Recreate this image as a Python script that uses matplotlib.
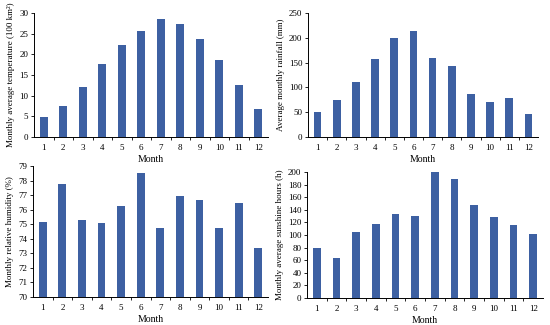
import numpy as np
import matplotlib
matplotlib.use('Agg')
import matplotlib.pyplot as plt

plt.rcParams['font.family'] = ['Liberation Serif', 'DejaVu Serif']

months = list(range(1, 13))
month_labels = [str(m) for m in months]

temperature = [4.9, 7.4, 12.0, 17.7, 22.2, 25.6, 28.5, 27.4, 23.8, 18.6, 12.7, 6.8]
rainfall = [49.6, 74.4, 110.6, 156.8, 199.7, 214.5, 160.2, 143.4, 85.8, 69.7, 78.4, 45.6]
humidity = [75.17, 77.78, 75.28, 75.1, 76.22, 78.52, 74.71, 76.91, 76.68, 74.71, 76.43, 73.35]
sunshine = [78.8, 63.5, 104.8, 118.0, 132.8, 130.7, 200.0, 188.9, 147.6, 128.0, 115.3, 101.0]

bar_color = '#3D60A2'

fig = plt.figure(figsize=(5.5, 3.25), dpi=100)

W, H = 550, 325


def px_axes(left, right, top, bottom):
    return fig.add_axes([left / W, 1 - bottom / H, (right - left) / W, (bottom - top) / H])


panels = [
    (px_axes(34, 268, 13, 137), temperature, (0, 30), np.arange(0, 31, 5),
     'Monthly average temperature (100 km\u00b2)'),
    (px_axes(308, 538, 13, 137), rainfall, (0, 250), np.arange(0, 251, 50),
     'Average monthly rainfall (mm)'),
    (px_axes(33, 268, 166, 297), humidity, (70, 79), np.arange(70, 80, 1),
     'Monthly relative humidity (%)'),
    (px_axes(307, 543, 172, 298), sunshine, (0, 200), np.arange(0, 201, 20),
     'Monthly average sunshine hours (h)'),
]

for ax, values, ylim, yticks, ylabel in panels:
    base = ylim[0]
    heights = [v - base for v in values]
    ax.bar(months, heights, bottom=base, width=0.4, color=bar_color)
    ax.set_xlim(0.5, 12.5)
    ax.set_ylim(*ylim)
    ax.set_yticks(yticks)
    ax.set_yticklabels([str(t) for t in yticks])
    # Excel style: tick marks between categories, labels centred
    ax.set_xticks(np.arange(1.5, 12.5, 1))
    ax.set_xticklabels([])
    ax.set_xticks(months, minor=True)
    ax.set_xticklabels(month_labels, minor=True)
    ax.tick_params(axis='x', which='major', length=2, width=0.6, direction='out')
    ax.tick_params(axis='x', which='minor', length=0, pad=5, labelsize=6.5)
    ax.tick_params(axis='y', length=2, width=0.6, direction='out', labelsize=6.5, pad=2)
    for side in ['top', 'right']:
        ax.spines[side].set_visible(False)
    for side in ['left', 'bottom']:
        ax.spines[side].set_linewidth(0.7)
    ax.set_xlabel('Month', fontsize=7, labelpad=2)
    ax.set_ylabel(ylabel, fontsize=6.5, labelpad=3)

fig.savefig('out.png', dpi=100)
